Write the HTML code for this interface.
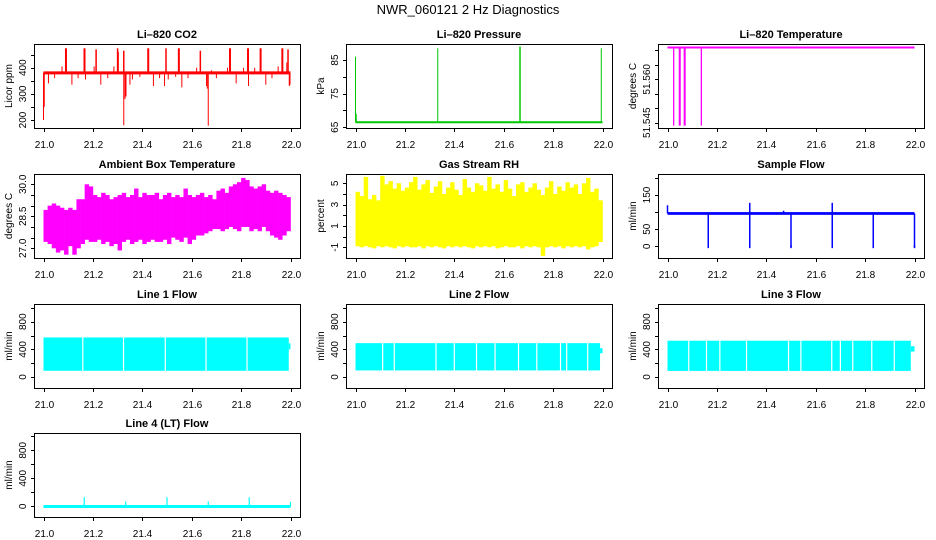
<!DOCTYPE html>
<html><head><meta charset="utf-8"><style>
html,body{margin:0;padding:0;background:#fff;}
svg{display:block;font-family:"Liberation Sans",sans-serif;}
</style></head><body>
<svg id="chart" width="936" height="540" viewBox="0 0 936 540">
<text x="468" y="14" text-anchor="middle" font-size="13">NWR_060121  2 Hz Diagnostics</text>
</svg>
<script>
// ---------- data ----------
const xTicks = [21.0, 21.2, 21.4, 21.6, 21.8, 22.0];
const xTickLabels = ["21.0", "21.2", "21.4", "21.6", "21.8", "22.0"];

// CO2
const co2Base = 380;
const co2SpikeX = [21.09,21.092,21.165,21.167,21.213,21.30,21.302,21.325,21.423,21.425,21.496,21.547,21.549,21.635,21.754,21.756,21.827,21.829,21.878,21.880,21.966,21.968,21.99];
const co2SpikeY = [474,474,474,474,470,474,460,465,474,474,474,474,474,465,474,474,474,474,474,474,474,474,470];
const co2DownX = [21.0,21.003,21.325,21.33,21.334,21.663,21.667,21.995,21.998];
const co2DownY = [200,250,180,280,290,320,178,330,335];
const co2MinorX = [21.02,21.045,21.075,21.115,21.14,21.17,21.205,21.232,21.26,21.285,21.35,21.36,21.39,21.445,21.47,21.49,21.505,21.535,21.56,21.585,21.62,21.66,21.68,21.7,21.745,21.78,21.81,21.83,21.855,21.9,21.925,21.95,21.985];
const co2MinorY = [340,360,405,335,360,355,405,335,360,405,335,355,365,330,360,330,355,365,325,360,400,330,390,360,400,340,400,330,400,335,360,405,420];

// Pressure
const presBase = 66.5;
const presSpikeX = [21.0,21.003,21.333,21.665,21.667,21.995];
const presSpikeY = [86,69,88.5,89,89,88.5];

// Li-820 temperature
const tempBase = 51.571;
const tempDropX = [21.025,21.048,21.051,21.068,21.071,21.137];
const tempDropY = [51.544,51.544,51.544,51.544,51.544,51.544];

// Ambient box temperature (60 bins across 21.0-22.0)
const ambMax = [28.8,29.0,29.1,29.0,28.9,28.8,28.9,28.8,29.3,29.3,30.0,29.9,29.5,29.4,29.6,29.5,29.3,29.4,29.5,29.6,29.4,29.5,29.8,29.4,29.6,29.5,29.5,29.6,29.3,29.5,29.6,29.4,29.5,29.4,29.8,29.5,29.4,29.5,29.6,29.4,29.5,29.3,29.7,29.8,29.6,29.9,30.0,30.1,30.3,30.2,29.9,29.8,29.9,30.0,29.7,29.6,29.7,29.6,29.5,29.4];
const ambMin = [27.3,27.2,27.0,26.8,26.9,26.7,27.1,26.7,27.0,27.2,27.4,27.3,27.3,27.4,27.2,27.3,27.1,27.2,26.9,27.3,27.4,27.2,27.3,27.4,27.2,27.3,27.4,27.3,27.3,27.4,27.2,27.5,27.4,27.3,27.5,27.2,27.4,27.6,27.6,27.7,27.8,27.9,27.9,27.8,27.9,28.0,27.9,27.8,28.0,28.0,27.8,27.9,27.8,28.0,27.8,27.6,27.5,27.4,27.6,27.8];

// Gas stream RH (60 bins)
const rhMax = [4.2,3.8,5.6,3.5,3.9,3.4,5.7,4.9,5.2,4.5,5.0,4.3,4.6,5.1,5.6,4.4,4.9,5.3,4.1,4.7,5.2,4.0,4.6,5.1,4.4,3.9,5.4,4.6,4.2,5.0,4.8,4.3,5.6,4.5,4.9,4.2,5.3,4.5,3.8,4.9,5.1,4.2,4.6,5.0,4.4,3.9,4.6,5.2,4.0,4.7,4.3,5.1,4.6,4.9,4.0,5.0,5.5,4.2,4.5,3.4];
const rhMin = [-0.9,-1.0,-0.9,-1.0,-1.1,-0.9,-1.0,-0.9,-1.0,-1.1,-0.9,-1.0,-0.9,-1.0,-1.0,-0.9,-1.1,-0.9,-1.0,-0.9,-1.0,-1.1,-0.9,-1.0,-0.9,-1.0,-0.9,-1.0,-1.1,-0.9,-1.0,-0.9,-1.0,-0.9,-1.1,-1.0,-0.9,-1.0,-1.0,-0.9,-1.1,-0.9,-1.0,-0.9,-1.0,-1.8,-1.0,-0.9,-1.0,-0.9,-1.1,-0.9,-1.0,-0.9,-1.0,-0.9,-1.2,-1.0,-0.9,-0.5];

// Sample flow
const sfLow = 92, sfHigh = 100;
const sfEventX = [21.0,21.333,21.47,21.667];
const sfEventY = [120,127,104,127];
const sfDropX = [21.165,21.333,21.5,21.667,21.833,22.0];
const sfDropY = [-3,-3,-3,-3,-3,-3];

// Line flows: band low/high and gaps
const l1Low = 90, l1High = 572;
const l1Gaps = [21.159,21.324,21.493,21.658,21.824];
const l1End = 21.993;
const l2Low = 95, l2High = 490;
const l2Gaps = [21.11,21.157,21.326,21.4,21.49,21.565,21.66,21.734,21.83,21.855,21.94];
const l2End = 21.99;
const l3Low = 88, l3High = 525;
const l3Gaps = [21.086,21.158,21.212,21.32,21.49,21.54,21.665,21.7,21.75,21.827,21.918];
const l3End = 21.985;

// Line 4
const l4Base = -3;
const l4SpikeX = [21.165,21.333,21.5,21.667,21.833,22.0];
const l4SpikeY = [130,70,130,70,130,65];

// ---------- layout ----------
const NS = "http://www.w3.org/2000/svg";
const svg = document.getElementById("chart");
const colX = [34, 346, 658];
const rowY = [44, 174, 304, 433];
const BW = 266, BH = 84;

function mk(tag, attrs, parent) {
  const e = document.createElementNS(NS, tag);
  for (const k in attrs) e.setAttribute(k, attrs[k]);
  (parent || svg).appendChild(e);
  return e;
}

function panel(col, row, name, title, ylab, yv1, yr1, yv2, yr2, yticks, ylabels, fmt) {
  const x0 = colX[col], y0 = rowY[row];
  const g = mk("g", {});
  
  
  const sx = v => x0 + 9.5 + (v - 21) * 247;
  const sy = v => y0 + yr1 + (v - yv1) * (yr2 - yr1) / (yv2 - yv1);
  const t = mk("text", {x: x0 + BW / 2, y: y0 - 6, "text-anchor": "middle", "font-size": 11, "font-weight": "bold"}, g);
  t.textContent = title;
  
  
  const yl = mk("text", {transform: `translate(${x0 - 22},${y0 + BH / 2}) rotate(-90)`, "text-anchor": "middle", "font-size": 10}, g);
  yl.textContent = ylab;
  
  
  const data = mk("g", {}, g);
  
  
  const axes = mk("g", {stroke: "#000", "stroke-width": 1, fill: "none"}, g);
  
  
  mk("rect", {x: x0 + 0.5, y: y0 + 0.5, width: BW, height: BH}, axes);
  xTicks.forEach((v, i) => {
    const px = Math.round(sx(v)) + 0.5;
    mk("line", {x1: px, x2: px, y1: y0 + BH, y2: y0 + BH + 4}, axes);
    const tl = mk("text", {x: px, y: y0 + BH + 20, "text-anchor": "middle", "font-size": 10, stroke: "none", fill: "#000"}, g);
    tl.textContent = xTickLabels[i];
    
    
  });
  yticks.forEach(v => {
    const py = Math.round(sy(v)) + 0.5;
    mk("line", {x1: x0 - 3, x2: x0, y1: py, y2: py}, axes);
  });
  ylabels.forEach(v => {
    const py = sy(v);
    const tl = mk("text", {transform: `translate(${x0 - 8},${py}) rotate(-90)`, "text-anchor": "middle", "font-size": 10}, g);
    tl.textContent = fmt(v);
    
    
  });
  return {sx, sy, g: data};
}

function vline(p, x, a, b, color, w, nm) {
  const e = mk("line", {x1: p.sx(x), x2: p.sx(x), y1: p.sy(a), y2: p.sy(b), stroke: color, "stroke-width": w}, p.g);
  
  
}
function hline(p, x1, x2, v, color, w, nm) {
  const e = mk("line", {x1: p.sx(x1), x2: p.sx(x2), y1: p.sy(v), y2: p.sy(v), stroke: color, "stroke-width": w}, p.g);
  
  
}
function bins(p, mins, maxs, color, nm) {
  const n = mins.length;
  for (let i = 0; i < n; i++) {
    const xa = 21 + i / n, xb = 21 + (i + 1) / n;
    const e = mk("rect", {x: p.sx(xa), width: p.sx(xb) - p.sx(xa) + 0.3, y: p.sy(maxs[i]), height: p.sy(mins[i]) - p.sy(maxs[i]), fill: color}, p.g);
    
    
  }
}
function band(p, low, high, gaps, end, color, nm) {
  const e = mk("rect", {x: p.sx(21), y: p.sy(high), width: p.sx(end) - p.sx(21), height: p.sy(low) - p.sy(high), fill: color}, p.g);
  
  
  gaps.forEach(gx => {
    const r = mk("rect", {x: p.sx(gx) - 0.6, y: p.sy(high) - 1, width: 1.2, height: p.sy(low) - p.sy(high) + 2, fill: "#fff"}, p.g);
    
    
  });
  const tail = mk("rect", {x: p.sx(end), y: p.sy(high * 0.85), width: p.sx(22) - p.sx(end), height: p.sy(high * 0.7) - p.sy(high * 0.85), fill: color}, p.g);
  
  
}
const f0 = v => String(v), f1 = v => v.toFixed(1), f3 = v => v.toFixed(3);

// CO2
let p = panel(0, 0, "co2", "Li\u2013820 CO2", "Licor ppm", 200, 76, 400, 23.7, [200,250,300,350,400,450], [200,300,400], f0);
co2SpikeX.forEach((x, i) => vline(p, x, co2Base, co2SpikeY[i], "#ff0000", 1.5, "co2-spike"));
co2DownX.forEach((x, i) => vline(p, x, co2Base, co2DownY[i], "#ff0000", 1, "co2-dip"));
co2MinorX.forEach((x, i) => vline(p, x, co2Base, co2MinorY[i], "#ff0000", 1, "co2-minor"));
hline(p, 21, 22, co2Base, "#ff0000", 3, "co2-baseline");

// Pressure
p = panel(1, 0, "pressure", "Li\u2013820 Pressure", "kPa", 65, 83.3, 85, 16, [65,70,75,80,85], [65,75,85], f0);
hline(p, 21, 22, presBase, "#00c800", 2, "pressure-baseline");
presSpikeX.forEach((x, i) => vline(p, x, presBase, presSpikeY[i], "#00c800", 1, "pressure-spike"));

// Li-820 temperature
p = panel(2, 0, "li820-temp", "Li\u2013820 Temperature", "degrees C", 51.545, 78.7, 51.560, 35.3, [51.545,51.550,51.555,51.560,51.565,51.570], [51.545,51.560], f3);
hline(p, 21, 22, tempBase, "#ff00ff", 2, "temp-baseline");
tempDropX.forEach((x, i) => vline(p, x, tempBase, tempDropY[i], "#ff00ff", 1.3, "temp-drop"));

// Ambient
p = panel(0, 1, "ambient-temp", "Ambient Box Temperature", "degrees C", 27.0, 74.3, 30.0, 10.3, [27,27.5,28,28.5,29,29.5,30], [27.0,28.5,30.0], f1);
bins(p, ambMin, ambMax, "#ff00ff", "ambient-bin");

// RH
p = panel(1, 1, "rh", "Gas Stream RH", "percent", -1, 73.3, 5, 9.3, [-1,0,1,2,3,4,5], [-1,1,3,5], f0);
bins(p, rhMin, rhMax, "#ffff00", "rh-bin");

// Sample flow
p = panel(2, 1, "sample-flow", "Sample Flow", "ml/min", 0, 72.3, 150, 21, [0,50,100,150,200], [0,50,150], f0);
{
  const e = mk("rect", {x: p.sx(21), y: p.sy(sfHigh), width: p.sx(22) - p.sx(21), height: p.sy(sfLow) - p.sy(sfHigh), fill: "#0000ff"}, p.g);
  
  
}
sfEventX.forEach((x, i) => vline(p, x, 96, sfEventY[i], "#0000ff", 1.5, "sample-flow-spike"));
sfDropX.forEach((x, i) => vline(p, x, 96, sfDropY[i], "#0000ff", 1.5, "sample-flow-drop"));
sfDropX.forEach((x, i) => hline(p, x - 0.003, x + 0.003, sfDropY[i] + 2, "#0000ff", 3, "sample-flow-drop-mark"));

// Line flows
p = panel(0, 2, "line1", "Line 1 Flow", "ml/min", 0, 73, 800, 17.7, [0,200,400,600,800,1000], [0,400,800], f0);
band(p, l1Low, l1High, l1Gaps, l1End, "#00ffff", "line1-band");
p = panel(1, 2, "line2", "Line 2 Flow", "ml/min", 0, 73, 800, 17.7, [0,200,400,600,800,1000], [0,400,800], f0);
band(p, l2Low, l2High, l2Gaps, l2End, "#00ffff", "line2-band");
p = panel(2, 2, "line3", "Line 3 Flow", "ml/min", 0, 73, 800, 17.7, [0,200,400,600,800,1000], [0,400,800], f0);
band(p, l3Low, l3High, l3Gaps, l3End, "#00ffff", "line3-band");

// Line 4
p = panel(0, 3, "line4", "Line 4 (LT) Flow", "ml/min", 0, 73.3, 800, 17.3, [0,200,400,600,800,1000], [0,400,800], f0);
hline(p, 21, 22, l4Base, "#00ffff", 3, "line4-baseline");
l4SpikeX.forEach((x, i) => vline(p, x, l4Base, l4SpikeY[i], "#00ffff", 1.2, "line4-spike"));
</script>
</body></html>
